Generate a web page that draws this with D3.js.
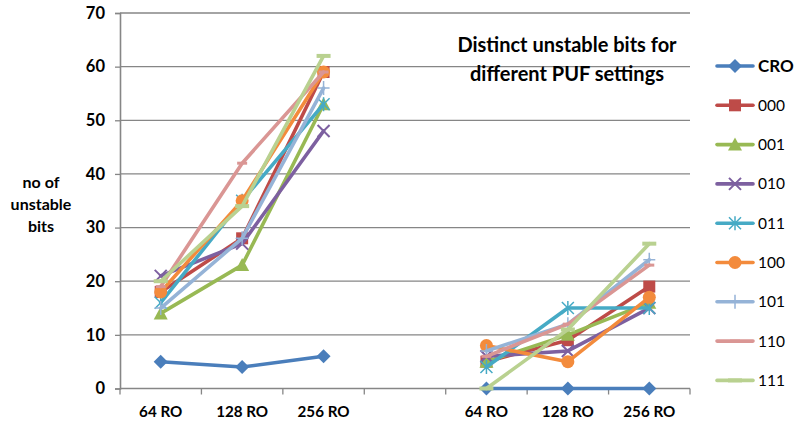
<!DOCTYPE html>
<html>
<head>
<meta charset="utf-8">
<script src="https://cdn.jsdelivr.net/npm/d3@7"></script>
<style>
  html, body { margin: 0; padding: 0; background: #fff; }
  svg { display: block; font-family: Lato, "Open Sans", sans-serif; }
</style>
</head>
<body>
<svg id="chart" width="797" height="433"></svg>
<script>
// Categories: two groups of ring-oscillator counts separated by an empty slot
const categories = ["64 RO", "128 RO", "256 RO", "", "64 RO", "128 RO", "256 RO"];
const yTicks = [0, 10, 20, 30, 40, 50, 60, 70];

const seriesNames = ["CRO", "000", "001", "010", "011", "100", "101", "110", "111"];
const cro  = [5, 4, 6, null, 0, 0, 0];
const s000 = [18, 28, 59, null, 5, 9, 19];
const s001 = [14, 23, 53, null, 5, 10, 16];
const s010 = [21, 27, 48, null, 6, 7, 15];
const s011 = [16, 35, 53, null, 4, 15, 15];
const s100 = [18, 35, 59, null, 8, 5, 17];
const s101 = [15, 28, 56, null, 7, 12, 24];
const s110 = [19, 42, 59, null, 6, 12, 23];
const s111 = [20, 34, 62, null, 0, 11, 27];
const seriesValues = [cro, s000, s001, s010, s011, s100, s101, s110, s111];

const colors = ["#4A7EBB", "#BE4B48", "#98B954", "#7D60A0", "#46AAC5", "#F38B3C", "#95B3D7", "#DA9694", "#B9D190"];
const markers = ["diamond", "square", "triangle", "x", "asterisk", "circle", "plus", "dash", "longdash"];

const svg = d3.select("#chart");
const margin = { left: 120, right: 107, top: 13, bottom: 44.5 };
const W = 797, H = 433;

const x = d3.scaleBand().domain(d3.range(categories.length)).range([margin.left, W - margin.right]).padding(0);
const y = d3.scaleLinear().domain([0, 70]).range([H - margin.bottom, margin.top]);

const axisColor = "#868686";

// Horizontal gridlines
svg.append("g")
  .selectAll("line")
  .data(yTicks.filter(t => t > 0))
  .join("line")
  .attr("x1", margin.left).attr("x2", W - margin.right)
  .attr("y1", d => y(d)).attr("y2", d => y(d))
  .attr("stroke", axisColor).attr("stroke-width", 1.3);

// Y axis
const yAxis = svg.append("g")
  .attr("transform", `translate(${margin.left},0)`)
  .call(d3.axisLeft(y).tickValues(yTicks).tickSize(5).tickPadding(10));
yAxis.select(".domain").attr("stroke", axisColor).attr("stroke-width", 1.6);
yAxis.selectAll(".tick line").attr("stroke", axisColor).attr("stroke-width", 1.3);
yAxis.selectAll(".tick text")
  .attr("font-family", "Lato, sans-serif").attr("font-weight", "bold")
  .attr("font-size", 16.5).attr("fill", "#000");

// X axis with ticks at band boundaries
const xAxisG = svg.append("g").attr("transform", `translate(0,${y(0)})`);
xAxisG.append("line")
  .attr("x1", margin.left).attr("x2", W - margin.right)
  .attr("stroke", axisColor).attr("stroke-width", 1.6);
xAxisG.selectAll("line.tk")
  .data(d3.range(categories.length + 1))
  .join("line").attr("class", "tk")
  .attr("x1", i => margin.left + i * x.bandwidth())
  .attr("x2", i => margin.left + i * x.bandwidth())
  .attr("y1", 0).attr("y2", 6)
  .attr("stroke", axisColor).attr("stroke-width", 1.3);
xAxisG.selectAll("text")
  .data(categories)
  .join("text")
  .attr("x", (d, i) => x(i) + x.bandwidth() / 2)
  .attr("y", 28.5)
  .attr("text-anchor", "middle")
  .attr("font-family", "Lato, sans-serif").attr("font-weight", "bold")
  .attr("font-size", 15.2).attr("fill", "#000")
  .text(d => d);

// Y axis title
const yTitle = svg.append("text")
  .attr("text-anchor", "middle")
  .attr("font-family", "Lato, sans-serif").attr("font-weight", "bold")
  .attr("font-size", 16).attr("fill", "#000");
["no of", "unstable", "bits"].forEach((t, i) => {
  yTitle.append("tspan").attr("x", 41).attr("y", 188 + i * 22).text(t);
});

// Marker drawing
function drawMarker(g, type, color) {
  const sw = 2;
  switch (type) {
    case "diamond":
      g.append("path").attr("d", "M0,-7L7,0L0,7L-7,0Z").attr("fill", color);
      break;
    case "square":
      g.append("rect").attr("x", -6).attr("y", -6).attr("width", 12).attr("height", 12).attr("fill", color);
      break;
    case "triangle":
      g.append("path").attr("d", "M0,-7L7,6L-7,6Z").attr("fill", color);
      break;
    case "x":
      g.append("path").attr("d", "M-6,-6L6,6M6,-6L-6,6").attr("stroke", color).attr("stroke-width", sw).attr("fill", "none");
      break;
    case "asterisk":
      g.append("path").attr("d", "M-6,-6L6,6M6,-6L-6,6M0,-7L0,7").attr("stroke", color).attr("stroke-width", sw - 0.5).attr("fill", "none");
      break;
    case "circle":
      g.append("circle").attr("r", 6.5).attr("fill", color);
      break;
    case "plus":
      g.append("path").attr("d", "M-6,0L6,0M0,-7L0,7").attr("stroke", color).attr("stroke-width", sw - 0.5).attr("fill", "none");
      break;
    case "dash":
      g.append("path").attr("d", "M-5,0L5,0").attr("stroke", color).attr("stroke-width", 3).attr("fill", "none");
      break;
    case "longdash":
      g.append("path").attr("d", "M-7,0L7,0").attr("stroke", color).attr("stroke-width", 4).attr("fill", "none");
      break;
  }
}

const line = d3.line()
  .defined(d => d != null)
  .x((d, i) => x(i) + x.bandwidth() / 2)
  .y(d => y(d));

const plot = svg.append("g");
seriesValues.forEach((vals, si) => {
  const g = plot.append("g");
  g.append("path")
    .attr("d", line(vals))
    .attr("fill", "none")
    .attr("stroke", colors[si])
    .attr("stroke-width", 3.6)
    .attr("stroke-linejoin", "round")
    .attr("stroke-linecap", "round");
  vals.forEach((v, i) => {
    if (v == null) return;
    const m = g.append("g").attr("transform", `translate(${x(i) + x.bandwidth() / 2},${y(v)})`);
    drawMarker(m, markers[si], colors[si]);
  });
});

// Chart title
const title = svg.append("text")
  .attr("text-anchor", "middle")
  .attr("font-family", "Lato, sans-serif").attr("font-weight", "bold")
  .attr("font-size", 20).attr("fill", "#000");
title.append("tspan").attr("x", 567).attr("y", 52).text("Distinct unstable bits for");
title.append("tspan").attr("x", 567).attr("y", 81).text("different PUF settings");

// Legend
const legend = svg.append("g");
seriesNames.forEach((name, i) => {
  const ly = 66 + i * 39.3;
  const g = legend.append("g").attr("transform", `translate(0,${ly})`);
  g.append("line").attr("x1", 717).attr("x2", 753).attr("stroke", colors[i])
    .attr("stroke-width", 3.6).attr("stroke-linecap", "round");
  const m = g.append("g").attr("transform", "translate(735,0)");
  drawMarker(m, markers[i], colors[i]);
  g.append("text")
    .attr("x", 758).attr("y", i === 0 ? 6 : 5.5)
    .attr("font-family", "Lato, sans-serif")
    .attr("font-weight", i === 0 ? "bold" : "normal")
    .attr("font-size", i === 0 ? 17 : 15.5)
    .attr("fill", "#000")
    .text(name);
});
</script>
</body>
</html>
